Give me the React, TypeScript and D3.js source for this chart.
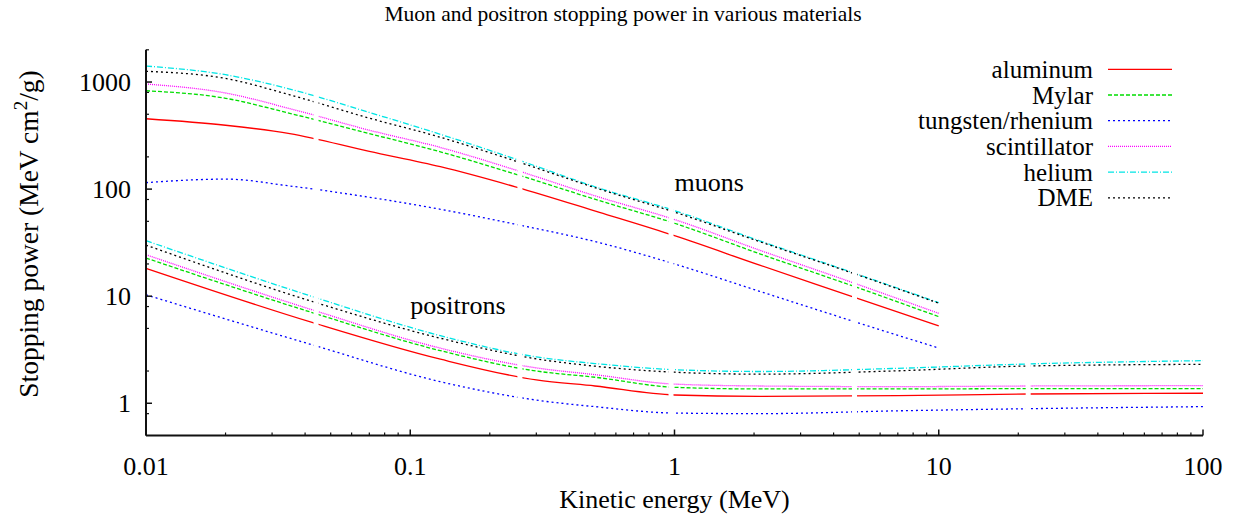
import React from 'react';
import * as d3 from 'd3';

const W = 1249;
const H = 519;
const FONT = '"Liberation Serif", "DejaVu Serif", serif';

const title = 'Muon and positron stopping power in various materials';
const xLabel = 'Kinetic energy (MeV)';
const xTicks = [0.01, 0.1, 1, 10, 100];
const xTickLabels = ['0.01', '0.1', '1', '10', '100'];
const yTicks = [1, 10, 100, 1000];
const yTickLabels = ['1', '10', '100', '1000'];
const yMinorFactors = [2, 5, 8];
const xMinorFactors = [2, 3, 4, 5, 6, 7, 8, 9];

const materials = ['aluminum', 'Mylar', 'tungsten/rhenium', 'scintillator', 'helium', 'DME'];
const colors = ['#ff0000', '#00dd00', '#0000ff', '#ff00ff', '#00e5e5', '#000000'];
const dashes = ['', '4,2', '2,3', '1,1', '6,2,1,2', '2,3'];

// muons
const muonEnergy = [0.01, 0.02, 0.035, 0.07, 0.13, 0.25, 0.52, 1, 2.1, 4.8, 10];
const muonAluminum = [454, 395, 330, 225, 162, 105, 60.6, 36.7, 19.5, 9.77, 5.27];
const muonMylar = [829, 705, 510, 330, 223, 138, 78, 48, 24.9, 12.3, 6.44];
const muonTungsten = [115, 124, 107, 84, 64.8, 47, 31.6, 20, 11.1, 5.78, 3.28];
const muonScint = [958, 790, 565, 355, 245, 151, 84, 52, 26.9, 13.2, 6.92];
const muonHelium = [1410, 1170, 860, 520, 325, 191, 102, 63, 32.9, 16.4, 8.7];
const muonDME = [1260, 1080, 760, 460, 305, 183, 100, 61, 32.3, 16.2, 8.6];

// positrons
const positronEnergy = [0.01, 0.0428, 0.13, 0.3, 0.5, 1, 2.1, 7, 22, 100];
const positronAluminum = [18.2, 5.66, 2.58, 1.65, 1.45, 1.195, 1.16, 1.18, 1.22, 1.24];
const positronMylar = [22.7, 7.0, 3.1, 2.0, 1.75, 1.41, 1.36, 1.36, 1.37, 1.37];
const positronTungsten = [10.3, 3.5, 1.59, 1.07, 0.93, 0.81, 0.8, 0.85, 0.89, 0.93];
const positronScint = [24.4, 7.43, 3.27, 2.14, 1.85, 1.51, 1.45, 1.43, 1.45, 1.46];
const positronHelium = [33, 9.89, 4.28, 2.71, 2.35, 2.06, 1.98, 2.12, 2.33, 2.5];
const positronDME = [30, 8.89, 4.05, 2.6, 2.22, 1.95, 1.87, 2.01, 2.23, 2.31];

// energies where the plotted curves are broken (data segment joins)
const gapEnergies = [0.044, 0.26, 0.97, 4.8, 21.8];

const annotations = [
  { text: 'muons', e: 1, v: 115 },
  { text: 'positrons', e: 0.1, v: 8.2 },
];

const muonSeries = [muonAluminum, muonMylar, muonTungsten, muonScint, muonHelium, muonDME];
const positronSeries = [positronAluminum, positronMylar, positronTungsten, positronScint, positronHelium, positronDME];

export default function App() {
  const x = d3.scaleLog().domain([0.01, 100]).range([146, 1203]);
  const y = d3.scaleLog().domain([0.5, 2000]).range([435.5, 49.8]);
  const [x0, x1] = x.range();
  const [y0, y1] = y.range();

  const line = d3
    .line<[number, number]>()
    .x((d) => x(d[0]))
    .y((d) => y(d[1]))
    .curve(d3.curveMonotoneX);

  const xMinor: number[] = [];
  for (let p = -2; p < 2; p++) for (const f of xMinorFactors) xMinor.push(f * Math.pow(10, p));
  const yMinor: number[] = [];
  for (let p = -1; p <= 3; p++)
    for (const f of yMinorFactors) {
      const v = f * Math.pow(10, p);
      if (v > 0.5 && v <= 2000) yMinor.push(v);
    }

  const tickColor = '#111';
  const legendTextX = 1093;
  const legendLine = [1108, 1172];
  const legendY0 = 69.3;
  const legendStep = 25.7;
  const fs = 26;

  return (
    <svg
      width={W}
      height={H}
      style={{ position: 'absolute', left: 0, top: 0, background: '#fff' }}
      fontFamily={FONT}
    >
      <defs>
        <mask id="gaps" maskUnits="userSpaceOnUse" x={0} y={0} width={W} height={H}>
          <rect x={0} y={0} width={W} height={H} fill="#fff" />
          {gapEnergies.map((e) => (
            <rect key={e} x={x(e) - 2.5} y={0} width={5} height={H} fill="#000" />
          ))}
        </mask>
      </defs>

      <text x={623} y={21} textAnchor="middle" fontSize={21.5} fill="#000">
        {title}
      </text>

      {/* curves */}
      <g mask="url(#gaps)" fill="none" strokeWidth={1.3}>
        {muonSeries.map((vals, i) => (
          <path
            key={'m' + i}
            d={line(muonEnergy.map((e, j) => [e, vals[j]] as [number, number])) || ''}
            stroke={colors[i]}
            strokeDasharray={dashes[i] || undefined}
          />
        ))}
        {positronSeries.map((vals, i) => (
          <path
            key={'p' + i}
            d={line(positronEnergy.map((e, j) => [e, vals[j]] as [number, number])) || ''}
            stroke={colors[i]}
            strokeDasharray={dashes[i] || undefined}
          />
        ))}
      </g>

      {/* axes */}
      <g stroke={tickColor}>
        <line x1={x0} x2={x0} y1={y1} y2={y0} strokeWidth={2} />
        <line x1={x0} x2={x1} y1={y0} y2={y0} strokeWidth={2} />
        {yTicks.map((v) => (
          <line key={'yt' + v} x1={x0} x2={x0 + 6} y1={y(v)} y2={y(v)} strokeWidth={1.5} />
        ))}
        {yMinor.map((v) => (
          <line key={'ym' + v} x1={x0} x2={x0 + 3} y1={y(v)} y2={y(v)} strokeWidth={1.2} />
        ))}
        {xTicks.map((v) => (
          <line key={'xt' + v} x1={x(v)} x2={x(v)} y1={y0} y2={y0 - 6} strokeWidth={1.5} />
        ))}
        {xMinor.map((v) => (
          <line key={'xm' + v} x1={x(v)} x2={x(v)} y1={y0} y2={y0 - 3} strokeWidth={1.2} />
        ))}
      </g>

      {yTicks.map((v, i) => (
        <text key={'yl' + v} x={131} y={y(v) + 9} textAnchor="end" fontSize={fs} fill="#000">
          {yTickLabels[i]}
        </text>
      ))}
      {xTicks.map((v, i) => (
        <text key={'xl' + v} x={x(v)} y={475} textAnchor="middle" fontSize={fs} fill="#000">
          {xTickLabels[i]}
        </text>
      ))}

      <text x={(x0 + x1) / 2} y={508} textAnchor="middle" fontSize={fs} fill="#000">
        {xLabel}
      </text>

      <text transform={`translate(38,234) rotate(-90)`} textAnchor="middle" fontSize={27.5} fill="#000">
        Stopping power (MeV cm
        <tspan fontSize={19} dy={-11}>2</tspan>
        <tspan dy={11}>/g)</tspan>
      </text>

      {annotations.map((a) => (
        <text
          key={a.text}
          x={x(a.e)}
          y={y(a.v)}
          dominantBaseline="central"
          fontSize={fs}
          fill="#000"
        >
          {a.text}
        </text>
      ))}

      {/* legend */}
      {materials.map((m, i) => {
        const ly = legendY0 + i * legendStep;
        return (
          <g key={m}>
            <text x={legendTextX} y={ly + 8.5} textAnchor="end" fontSize={25} fill="#000">
              {m}
            </text>
            <line
              x1={legendLine[0]}
              x2={legendLine[1]}
              y1={ly}
              y2={ly}
              stroke={colors[i]}
              strokeWidth={1.3}
              strokeDasharray={dashes[i] || undefined}
            />
          </g>
        );
      })}
    </svg>
  );
}
